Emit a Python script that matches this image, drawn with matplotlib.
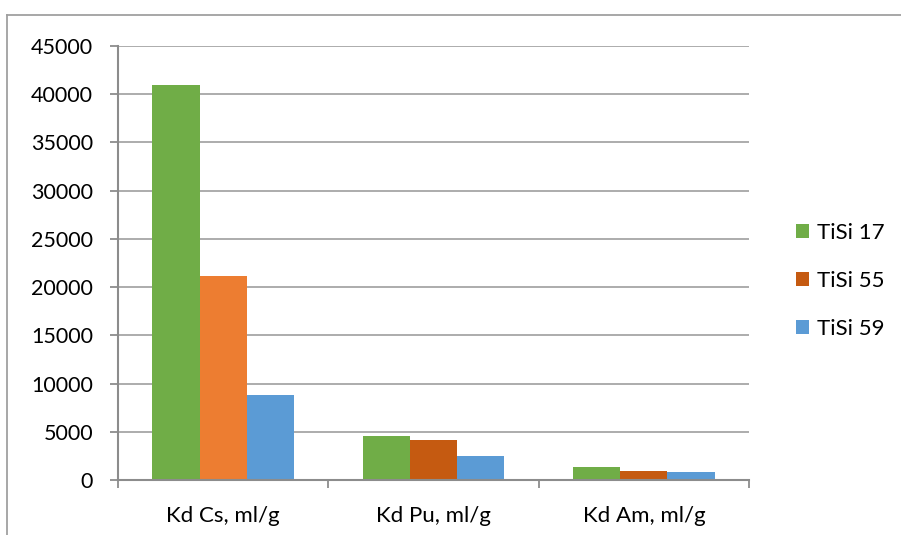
import matplotlib
matplotlib.use("Agg")
import matplotlib.pyplot as plt
from matplotlib.lines import Line2D
from matplotlib.patches import Patch
import numpy as np

categories = ["Kd Cs, ml/g", "Kd Pu, ml/g", "Kd Am, ml/g"]
series_names = ["TiSi 17", "TiSi 55", "TiSi 59"]
tisi17 = [41000, 4600, 1380]
tisi55 = [21200, 4100, 950]
tisi59 = [8800, 2480, 850]
yticks = [0, 5000, 10000, 15000, 20000, 25000, 30000, 35000, 40000, 45000]

green = "#70AD47"
orange_light = "#ED7D31"
orange_dark = "#C55A11"
blue = "#5B9BD5"
grid_col = "#A6A6A6"
axis_col = "#8C8C8C"

plt.rcParams["font.family"] = ["Lato", "DejaVu Sans"]

fig = plt.figure(figsize=(9.01, 5.35), dpi=100)
ax = fig.add_axes([118 / 901, 1 - 480 / 535, (749 - 118) / 901, (480 - 46) / 535])

x = np.arange(len(categories))
w = 0.224
ax.bar(x - w, tisi17, w, color=green, zorder=3)
ax.bar(x, tisi55, w, color=[orange_light, orange_dark, orange_dark], zorder=3)
ax.bar(x + w, tisi59, w, color=blue, zorder=3)

ax.set_xlim(-0.5, len(categories) - 0.5)
ax.set_ylim(0, 45000)
ax.set_yticks(yticks)
ax.set_yticklabels([str(v) for v in yticks])
ax.yaxis.grid(True, color=grid_col, linewidth=1.3, zorder=0)

ax.set_xticks(x)
ax.set_xticklabels(categories)
ax.set_xticks(np.arange(len(categories) + 1) - 0.5, minor=True)
ax.tick_params(axis="x", which="major", length=0, pad=19, labelsize=16, colors="#000000")
ax.tick_params(axis="x", which="minor", length=6, width=1.3, color=axis_col, direction="out")
ax.tick_params(axis="y", length=6, width=1.3, color=axis_col, pad=12, labelsize=15.5,
               labelcolor="#000000")

for side in ["top", "right"]:
    ax.spines[side].set_visible(False)
for side in ["left", "bottom"]:
    ax.spines[side].set_color(axis_col)
    ax.spines[side].set_linewidth(1.5)
    ax.spines[side].set_zorder(4)

handles = [Patch(facecolor=green), Patch(facecolor=orange_dark), Patch(facecolor=blue)]
leg = fig.legend(handles, series_names, loc="center left",
                 bbox_to_anchor=(776 / 901, 1 - 281 / 535), frameon=False,
                 fontsize=16, handlelength=0.6, handleheight=0.6,
                 handletextpad=0.35, labelspacing=1.25)

# outer chart frame
fig.add_artist(Line2D([7 / 901, 1.0], [1 - 15 / 535, 1 - 15 / 535],
                      transform=fig.transFigure, color="#A0A0A0", linewidth=1.3))
fig.add_artist(Line2D([7 / 901, 7 / 901], [0.0, 1 - 15 / 535],
                      transform=fig.transFigure, color="#A0A0A0", linewidth=1.3))

fig.savefig("out.png", dpi=100, facecolor="white")
